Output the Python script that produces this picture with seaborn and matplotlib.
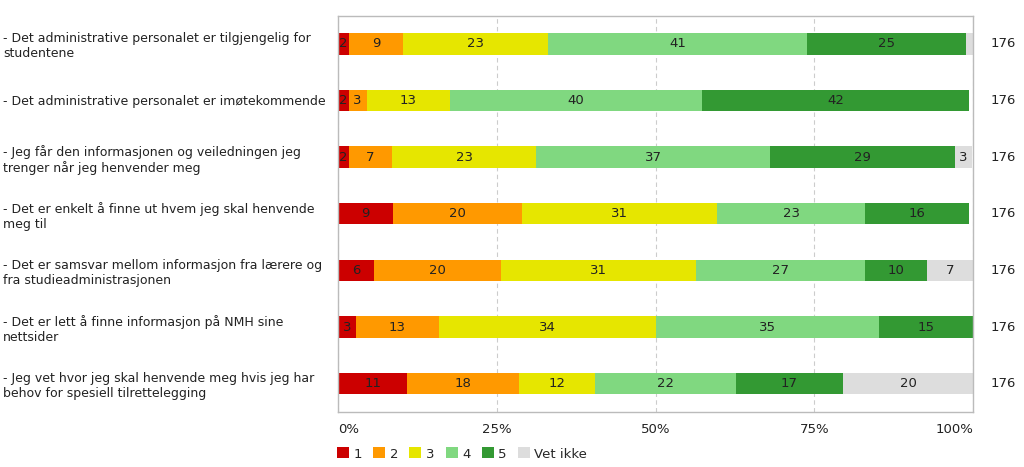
import numpy as np
import pandas as pd
import seaborn as sns
import matplotlib.pyplot as plt
from matplotlib.patches import Patch
from matplotlib.transforms import blended_transform_factory

# Data (percent of respondents per answer)
questions = [
    "- Det administrative personalet er tilgjengelig for\nstudentene",
    "- Det administrative personalet er imøtekommende",
    "- Jeg får den informasjonen og veiledningen jeg\ntrenger når jeg henvender meg",
    "- Det er enkelt å finne ut hvem jeg skal henvende\nmeg til",
    "- Det er samsvar mellom informasjon fra lærere og\nfra studieadministrasjonen",
    "- Det er lett å finne informasjon på NMH sine\nnettsider",
    "- Jeg vet hvor jeg skal henvende meg hvis jeg har\nbehov for spesiell tilrettelegging",
]
p1 = [1.7, 1.7, 1.7, 8.6, 5.7, 2.8, 10.9]
p2 = [8.6, 2.8, 6.8, 20.4, 19.9, 13.1, 17.6]
p3 = [22.7, 13.1, 22.7, 30.7, 30.7, 34.1, 11.9]
p4 = [40.9, 39.8, 36.9, 23.3, 26.7, 35.2, 22.2]
p5 = [25.0, 42.0, 29.0, 16.4, 9.7, 14.8, 17.0]
vet_ikke = [1.1, 0.0, 2.8, 0.0, 7.4, 0.0, 20.4]
n_answers = [176, 176, 176, 176, 176, 176, 176]

series_names = ["1", "2", "3", "4", "5", "Vet ikke"]
colors = ["#CC0000", "#FF9900", "#E6E600", "#80D880", "#339933", "#DDDDDD"]

sns.set_style("white")
plt.rcParams["font.family"] = ["DejaVu Sans"]

df = pd.DataFrame(
    {"1": p1, "2": p2, "3": p3, "4": p4, "5": p5, "Vet ikke": vet_ikke},
    index=questions,
)
cum = df.cumsum(axis=1)

fig = plt.figure(figsize=(10.24, 4.67), dpi=100)
ax = fig.add_axes([338 / 1024, 1 - 412 / 467, 635 / 1024, 396 / 467])

# stacked bars: draw cumulative totals from the outermost layer inwards
for name, color in reversed(list(zip(series_names, colors))):
    sns.barplot(x=cum[name].values, y=questions, orient="h", color=color,
                saturation=1, width=0.38, linewidth=0, ax=ax)

# value labels (rounded half up)
left = cum.shift(1, axis=1).fillna(0)
for i, q in enumerate(questions):
    for name in series_names:
        w = df.loc[q, name]
        if w >= 1.5:
            ax.text(left.loc[q, name] + w / 2, i, str(int(w + 0.5)),
                    ha="center", va="center", fontsize=9.5, color="#222222")

# counts on the right
trans = blended_transform_factory(ax.transAxes, ax.transData)
for i, n in enumerate(n_answers):
    ax.text(1.047, i, str(n), transform=trans, ha="center", va="center",
            fontsize=9.5, color="#222222")

ax.set_xlim(0, 100)
ax.set_ylim(6.5, -0.49)
ax.set_xticks([0, 25, 50, 75, 100])
ax.set_xticklabels(["0%", "25%", "50%", "75%", "100%"])
xt = ax.get_xticklabels()
xt[0].set_ha("left")
xt[-1].set_ha("right")
ax.tick_params(axis="x", length=0, pad=8, labelsize=9.5, labelcolor="#222222")
ax.tick_params(axis="y", length=0, pad=241, labelsize=9, labelcolor="#222222")
for lab in ax.get_yticklabels():
    lab.set_ha("left")
ax.set_xlabel("")
ax.set_ylabel("")

ax.set_axisbelow(True)
ax.xaxis.grid(True, linestyle=(0, (4, 3)), color="#CCCCCC", linewidth=0.8)
ax.yaxis.grid(False)
for s in ax.spines.values():
    s.set_color("#BBBBBB")
    s.set_linewidth(1)

handles = [Patch(facecolor=c, edgecolor="none") for c in colors]
fig.legend(handles, series_names, loc="center left", ncol=6,
           bbox_to_anchor=(337 / 1024, 13 / 467), frameon=False,
           handlelength=0.9, handleheight=0.9, handletextpad=0.35,
           columnspacing=0.85, borderpad=0, borderaxespad=0, fontsize=9.5)

fig.savefig("out.png", dpi=100)
